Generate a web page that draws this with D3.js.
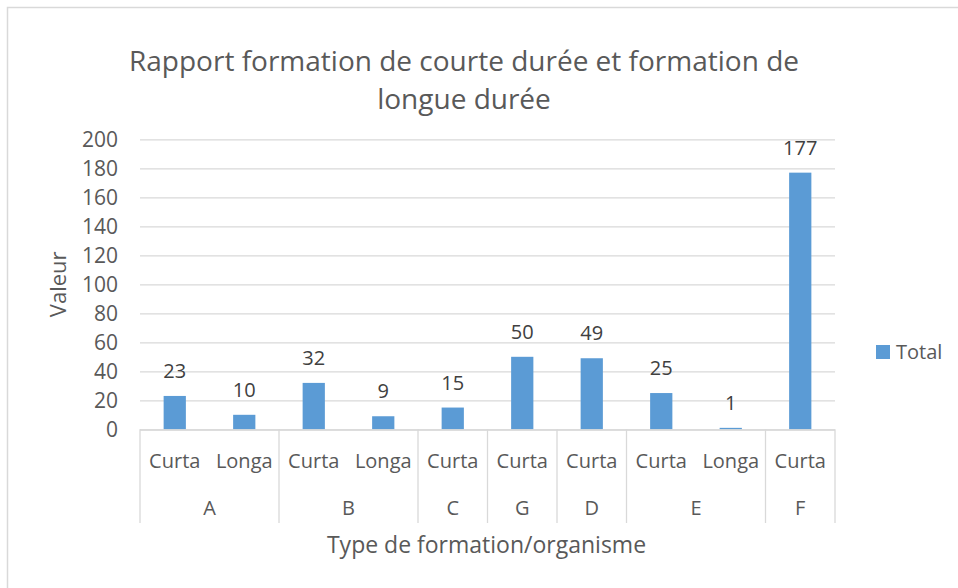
<!DOCTYPE html>
<html>
<head>
<meta charset="utf-8">
<script src="https://cdn.jsdelivr.net/npm/d3@7"></script>
<style>
  body { margin: 0; background: #fff; }
  svg { display: block; font-family: "Open Sans", Lato, sans-serif; }
</style>
</head>
<body>
<svg width="958" height="588"></svg>
<script>
// Rapport formation courte / longue durée
const groups = ['A', 'A', 'B', 'B', 'C', 'G', 'D', 'E', 'E', 'F'];
const types = ['Curta', 'Longa', 'Curta', 'Longa', 'Curta', 'Curta', 'Curta', 'Curta', 'Longa', 'Curta'];
const values = [23, 10, 32, 9, 15, 50, 49, 25, 1, 177];
const yTicks = [0, 20, 40, 60, 80, 100, 120, 140, 160, 180, 200];

const SVG = d3.select('svg');
const W = 958, H = 588;
const LEFT = 140, RIGHT = 835, TOP = 139.3, BOTTOM = 429.3;
const TEXT = '#595959';
const BLUE = '#5B9BD5';
const GRID = '#D9D9D9';

const idx = values.map((v, i) => i);
const xScale = d3.scaleBand().domain(idx).range([LEFT, RIGHT]).paddingInner(0.68).paddingOuter(0.34);
const slot = d3.scaleBand().domain(idx).range([LEFT, RIGHT]);
const yScale = d3.scaleLinear().domain([0, 200]).range([BOTTOM, TOP]);

// chart frame
SVG.append('rect').attr('x', 7.5).attr('y', 7.5).attr('width', W).attr('height', H)
   .attr('fill', 'none').attr('stroke', GRID).attr('stroke-width', 1.5);

// gridlines + y labels
const yAxis = d3.axisLeft(yScale).tickValues(yTicks).tickSize(-(RIGHT - LEFT)).tickPadding(22);
const yG = SVG.append('g').attr('transform', `translate(${LEFT},0)`).call(yAxis);
yG.select('.domain').remove();
yG.selectAll('.tick line').attr('stroke', GRID).attr('stroke-width', 1.3);
yG.selectAll('.tick text').attr('fill', TEXT).style('font-size', '21px').style('font-family', '"Open Sans"');

// bars
SVG.selectAll('rect.bar').data(idx).enter().append('rect').attr('class', 'bar')
   .attr('x', i => xScale(i))
   .attr('width', xScale.bandwidth())
   .attr('y', i => yScale(values[i]))
   .attr('height', i => BOTTOM - yScale(values[i]))
   .attr('fill', BLUE);

// data labels
SVG.selectAll('text.val').data(idx).enter().append('text').attr('class', 'val')
   .attr('x', i => xScale(i) + xScale.bandwidth() / 2)
   .attr('y', i => yScale(values[i]) - 18)
   .attr('text-anchor', 'middle')
   .attr('fill', '#404040')
   .style('font-size', '20px')
   .text(i => values[i]);

// category axis
SVG.append('line').attr('x1', LEFT).attr('x2', RIGHT).attr('y1', BOTTOM + 0.7).attr('y2', BOTTOM + 0.7)
   .attr('stroke', GRID).attr('stroke-width', 1.3);

SVG.selectAll('text.type').data(idx).enter().append('text').attr('class', 'type')
   .attr('x', i => slot(i) + slot.bandwidth() / 2)
   .attr('y', 468)
   .attr('text-anchor', 'middle')
   .attr('fill', TEXT)
   .style('font-size', '20px')
   .text(i => types[i]);

// group spans
const spans = [];
groups.forEach((g, i) => {
  if (spans.length && spans[spans.length - 1].name === g) spans[spans.length - 1].end = i;
  else spans.push({ name: g, start: i, end: i });
});
const edges = [LEFT].concat(spans.map(s => slot(s.end) + slot.bandwidth()));
SVG.selectAll('line.sep').data(edges).enter().append('line').attr('class', 'sep')
   .attr('x1', d => d).attr('x2', d => d)
   .attr('y1', BOTTOM).attr('y2', 523)
   .attr('stroke', GRID).attr('stroke-width', 1.3);

SVG.selectAll('text.grp').data(spans).enter().append('text').attr('class', 'grp')
   .attr('x', s => (slot(s.start) + slot(s.end) + slot.bandwidth()) / 2)
   .attr('y', 515)
   .attr('text-anchor', 'middle')
   .attr('fill', TEXT)
   .style('font-size', '20px')
   .text(s => s.name);

// titles
const title = SVG.append('text').attr('text-anchor', 'middle').attr('fill', TEXT).style('font-size', '28px');
title.append('tspan').attr('x', 464).attr('y', 71).text('Rapport formation de courte durée et formation de');
title.append('tspan').attr('x', 464).attr('y', 109).text('longue durée');

SVG.append('text').attr('x', (LEFT + RIGHT) / 2 - 1).attr('y', 553)
   .attr('text-anchor', 'middle').attr('fill', TEXT).style('font-size', '23px')
   .text('Type de formation/organisme');

SVG.append('text').attr('transform', `translate(66, ${(TOP + BOTTOM) / 2}) rotate(-90)`)
   .attr('text-anchor', 'middle').attr('fill', TEXT).style('font-size', '22px')
   .text('Valeur');

// legend
SVG.append('rect').attr('x', 876).attr('y', 345).attr('width', 14).attr('height', 14).attr('fill', BLUE);
SVG.append('text').attr('x', 896).attr('y', 359).attr('fill', TEXT).style('font-size', '20px').text('Total');
</script>
</body>
</html>
